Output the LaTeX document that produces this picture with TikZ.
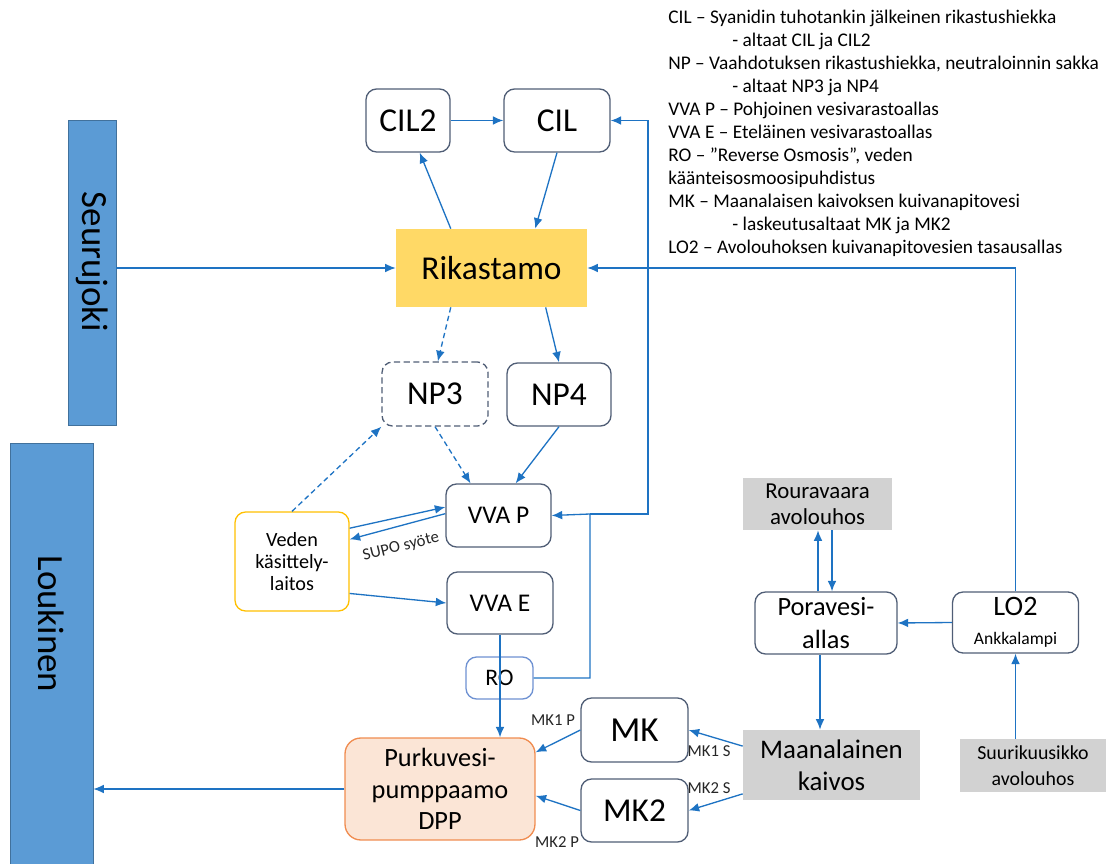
\documentclass[tikz,border=0pt]{standalone}
\usepackage{fontspec}
\setmainfont{Carlito}
\usepackage{tikz}
\usetikzlibrary{positioning,calc}
\usetikzlibrary{arrows.meta}
\definecolor{FlowBlue}{RGB}{30,115,195}
\definecolor{RiverBlue}{RGB}{91,155,213}
\definecolor{RiverEdge}{RGB}{65,113,156}
\definecolor{BoxLine}{RGB}{80,94,118}
\definecolor{PlantGold}{RGB}{255,217,102}
\definecolor{TreatLine}{RGB}{255,192,0}
\definecolor{PumpFill}{RGB}{251,229,214}
\definecolor{PumpLine}{RGB}{240,140,80}
\definecolor{RoLine}{RGB}{110,145,210}
\definecolor{PitGray}{RGB}{210,210,210}
\tikzset{
  box/.style={draw=BoxLine,line width=0.75pt,rounded corners=6pt,fill=white,
    align=center,inner sep=2pt},
  dbox/.style={box,dash pattern=on 3.5pt off 2pt},
  pit/.style={fill=PitGray,align=center,inner sep=2pt},
  river/.style={fill=RiverBlue,draw=RiverEdge,line width=0.4pt},
  flow/.style={draw=FlowBlue,line width=0.75pt,-{Latex[length=6pt,width=5pt]}},
  dflow/.style={flow,dash pattern=on 3pt off 2pt},
  tag/.style={font=\fontsize{9.5}{11}\selectfont,text=black!85,inner sep=0pt},
}

\begin{document}
\begin{tikzpicture}[x=0.02cm,y=-0.02cm]
\useasboundingbox (0,0) rectangle (1108,864);
% rivers
\node[river,minimum width=0.96cm,minimum height=6.1cm] (seur) at (92,272.5) {};
\node[rotate=-90,font=\fontsize{21}{24}\selectfont] (seurtxt) at (92,262) {Seurujoki};
\node[river,minimum width=1.66cm,minimum height=8.42cm] (louk) at (51.5,653.5) {};
\node[rotate=-90,font=\fontsize{21}{24}\selectfont] (louktxt) at (51.5,624) {Loukinen};
% plant and pools
\node[box,minimum width=1.68cm,minimum height=1.26cm,font=\fontsize{19}{22}\selectfont] (cil2) at (408,120.5) {CIL2};
\node[box,minimum width=2.12cm,minimum height=1.26cm,font=\fontsize{19}{22}\selectfont] (cil) at (557,120.5) {CIL};
\node[fill=PlantGold,minimum width=3.82cm,minimum height=1.56cm,font=\fontsize{19}{22}\selectfont] (rik) at (491.5,268) {Rikastamo};
\node[dbox,minimum width=2.12cm,minimum height=1.28cm,font=\fontsize{19}{22}\selectfont] (np3) at (435,394) {NP3};
\node[box,minimum width=2.08cm,minimum height=1.26cm,font=\fontsize{19}{22}\selectfont] (np4) at (559,394.5) {NP4};
\node[box,minimum width=2.10cm,minimum height=1.26cm,font=\fontsize{14.5}{16}\selectfont] (vvap) at (498.5,515.5) {VVA P};
\node[box,minimum width=2.12cm,minimum height=1.24cm,font=\fontsize{14.5}{16}\selectfont] (vvae) at (500,603) {VVA E};
\node[box,draw=TreatLine,minimum width=2.28cm,minimum height=1.98cm,font=\fontsize{11.5}{12.5}\selectfont] (veden) at (292,561.5) {Veden\\käsittely-\\laitos};
\node[box,draw=RoLine,minimum width=1.34cm,minimum height=0.84cm,font=\fontsize{13.5}{16}\selectfont] (ro) at (499.5,678) {RO};
\node[box,draw=PumpLine,fill=PumpFill,rounded corners=9pt,minimum width=3.8cm,minimum height=2.04cm,font=\fontsize{15}{18}\selectfont] (purk) at (440,789) {Purkuvesi-\\pumppaamo\\DPP};
\node[box,minimum width=2.14cm,minimum height=1.28cm,font=\fontsize{20}{23}\selectfont] (mk) at (634.5,730) {MK};
\node[box,minimum width=2.14cm,minimum height=1.26cm,font=\fontsize{19}{22}\selectfont] (mk2) at (634.5,810.5) {MK2};
% mine side
\node[pit,minimum width=3.54cm,minimum height=1.40cm,font=\fontsize{15.3}{18}\selectfont] (maan) at (831.5,765) {Maanalainen\\kaivos};
\node[box,minimum width=2.84cm,minimum height=1.24cm,font=\fontsize{15}{19}\selectfont] (pora) at (826,623) {Poravesi-\\allas};
\node[box,minimum width=2.52cm,minimum height=1.22cm,font=\fontsize{16}{16.4}\selectfont] (lo2) at (1015.5,622.5) {LO2\\{\fontsize{10}{12}\selectfont Ankkalampi}};
\node[pit,minimum width=2.98cm,minimum height=1.04cm,font=\fontsize{13}{15}\selectfont] (roura) at (817.5,504) {Rouravaara\\avolouhos};
\node[pit,minimum width=2.92cm,minimum height=1.06cm,font=\fontsize{11.3}{15}\selectfont] (suuri) at (1033,765.5) {Suurikuusikko\\avolouhos};
% legend
\node[anchor=north west,align=left,inner sep=0pt,font=\fontsize{11}{13.1}\selectfont] (legend) at (668,10) {%
CIL – Syanidin tuhotankin jälkeinen rikastushiekka\\
\hspace*{1.28cm}- altaat CIL ja CIL2\\
NP – Vaahdotuksen rikastushiekka, neutraloinnin sakka\\
\hspace*{1.28cm}- altaat NP3 ja NP4\\
VVA P – Pohjoinen vesivarastoallas\\
VVA E – Eteläinen vesivarastoallas\\
RO – ”Reverse Osmosis”, veden\\
käänteisosmoosipuhdistus\\
MK – Maanalaisen kaivoksen kuivanapitovesi\\
\hspace*{1.28cm}- laskeutusaltaat MK ja MK2\\
LO2 – Avolouhoksen kuivanapitovesien tasausallas};
% flows
\coordinate (jct) at (590,514);
\coordinate (riser) at (648,514);
\draw[flow] (seur.east |- rik.west) -- (rik.west);
\draw[flow] (rik.136) -- (cil2.-70);
\draw[flow] (cil2.east) -- (cil.west);
\draw[flow] (cil.south) -- (rik.42);
\draw[dflow] (rik.-136) -- (np3.85);
\draw[flow] (rik.-36) -- (np4.north);
\draw[dflow] (np3.south) -- (vvap.131);
\draw[flow] (np4.south) -- (vvap.62);
\draw[dflow] (veden.north) -- (np3.south west);
\draw[flow] (veden.30) -- (vvap.171);
\draw[flow] (vvap.178) -- (veden.21);
\node[tag,rotate=14] (supo) at (401,547) {SUPO syöte};
\draw[flow] (veden.-29) -- (vvae.west);
\draw[flow] (vvae.south) -- (vvae.south |- purk.north);
\draw[flow] (ro.east) -| (jct) -- (vvap.east);
\draw[flow] (jct) -- (riser) |- (cil.east);
\draw[flow] (lo2.north) |- (rik.east);
\draw[flow] (suuri.north -| lo2.south) -- (lo2.south);
\draw[flow] (lo2.west) -- (pora.east);
\coordinate (up1) at ($(pora.north)+(-8,0)$);
\coordinate (dn1) at ($(pora.north)+(6,0)$);
\coordinate (dn2) at ($(pora.south)+(-6,0)$);
\draw[flow] (up1) -- (up1 |- roura.south);
\draw[flow] (dn1 |- roura.south) -- (dn1);
\draw[flow] (dn2) -- (dn2 |- maan.north);
\draw[flow] (maan.168) -- (mk.east);
\draw[flow] (maan.198) -- (mk2.east);
\draw[flow] (mk.west) -- (purk.21);
\draw[flow] (mk2.west) -- (purk.-4);
\draw[flow] (purk.west) -- (purk.west -| louk.east);
\node[tag] (mk1s) at (709,751) {MK1 S};
\node[tag] (mk2s) at (709,788) {MK2 S};
\node[tag] (mk1p) at (553,720) {MK1 P};
\node[tag] (mk2p) at (557,842) {MK2 P};
\end{tikzpicture}
\end{document}
